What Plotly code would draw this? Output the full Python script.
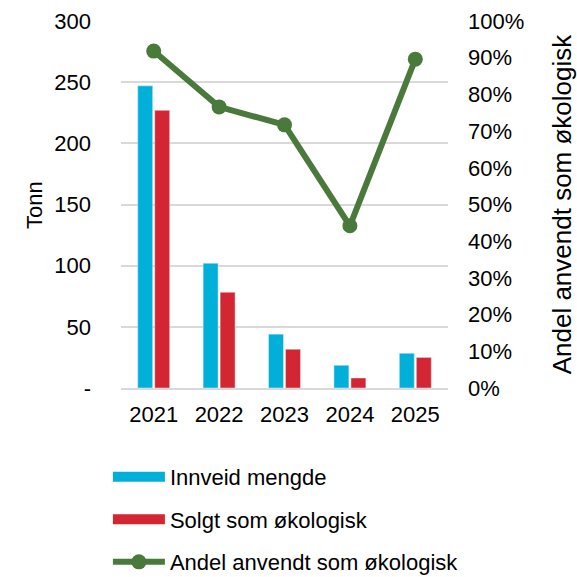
import plotly.graph_objects as go

years = ['2021', '2022', '2023', '2024', '2025']
innveid = [247, 102, 44, 18.6, 28.4]
solgt = [227, 78.3, 31.7, 8.2, 25]
andel = [0.918, 0.766, 0.717, 0.442, 0.896]

left_ticks = [0, 50, 100, 150, 200, 250, 300]
left_labels = ['-', '50', '100', '150', '200', '250', '300']

blue = '#00B0D8'
red = '#D42532'
green = '#4A7A3B'
font = dict(family='Liberation Sans, Arial', size=22, color='black')

fig = go.Figure()
fig.add_trace(go.Bar(x=years, y=innveid, name='Innveid mengde',
                     marker_color=blue, showlegend=False))
fig.add_trace(go.Bar(x=years, y=solgt, name='Solgt som økologisk',
                     marker_color=red, showlegend=False))
fig.add_trace(go.Scatter(x=years, y=andel, name='Andel anvendt som økologisk',
                         mode='lines+markers', yaxis='y2', legendgroup='c',
                         line=dict(color=green, width=6),
                         marker=dict(size=15, color=green), legendrank=3))
# legend entries with wide bar swatches
fig.add_trace(go.Scatter(x=[None], y=[None], mode='lines', name='Innveid mengde',
                         line=dict(color=blue, width=14), legendgroup='a',
                         legendrank=1))
fig.add_trace(go.Scatter(x=[None], y=[None], mode='lines', name='Solgt som økologisk',
                         line=dict(color=red, width=14), legendgroup='b',
                         legendrank=2))

fig.update_layout(
    width=577, height=577,
    margin=dict(l=121, r=129, t=21, b=189, autoexpand=False),
    plot_bgcolor='white', paper_bgcolor='white',
    font=font,
    barmode='group', bargap=0.48, bargroupgap=0.12,
    xaxis=dict(showgrid=False, showline=True, linecolor='#D9D9D9', linewidth=2,
               ticks='', tickfont=font, ticklabelstandoff=6),
    yaxis=dict(range=[0, 300], tickvals=left_ticks, ticktext=left_labels,
               showgrid=True, gridcolor='#D9D9D9', gridwidth=2,
               zeroline=False, ticks='', ticklabelstandoff=29),
    yaxis2=dict(range=[0, 1], overlaying='y', side='right', dtick=0.1,
                tickformat='.0%', showgrid=False, zeroline=False,
                ticklabelstandoff=19,
                title=dict(text='Andel anvendt som økologisk', standoff=41)),
    legend=dict(orientation='v', xref='container', x=0.187, xanchor='left',
                yref='container', y=0.21, yanchor='top',
                font=font, tracegroupgap=11, itemwidth=52,
                bgcolor='rgba(0,0,0,0)'),
    annotations=[dict(text='Tonn', xref='paper', yref='paper', x=-0.309, y=0.5,
                      textangle=-90, showarrow=False,
                      font=dict(family='Liberation Sans, Arial', size=22, color='black'))],
)

fig.write_html('out.html', config={'displayModeBar': False},
               post_script="document.body.style.margin='0';")
